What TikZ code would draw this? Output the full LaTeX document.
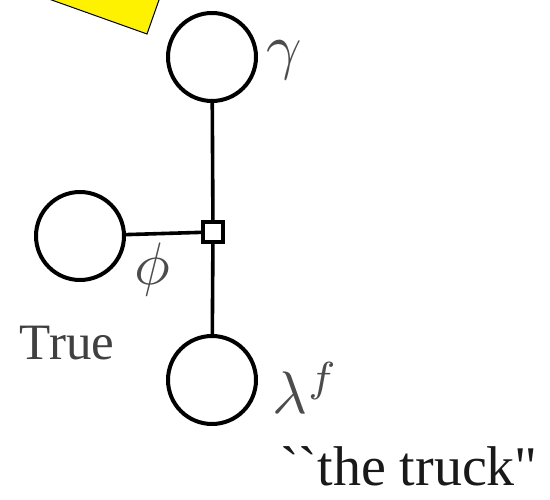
\documentclass[tikz,border=0pt]{standalone}
\usepackage{fontspec}
\usepackage{graphicx}
\setmainfont[Ligatures=TeXOff]{Liberation Serif}
\begin{document}
\begin{tikzpicture}[x=1pt,y=-1pt,
  var/.style={draw=black,circle,line width=4pt,minimum size=88pt,inner sep=0pt},
  fac/.style={draw=black,rectangle,line width=3.8pt,minimum size=20pt,inner sep=0pt,fill=white},
  edge/.style={line width=3.6pt},
  lbl/.style={inner sep=0pt,text=black!70},
  txt/.style={inner sep=0pt,text=black!75}]
\useasboundingbox (0,0) rectangle (550,500);
\begin{scope}
\clip (0,0) rectangle (550,500);
\fill[yellow,draw=black,line width=1pt] (4,-17) -- (147,34) -- (165,-17) -- cycle;
\end{scope}
\node[var] (g) at (212,57) {};
\node[var] (p) at (80,236) {};
\node[var] (l) at (212,380) {};
\node[fac] (f) at (213,232) {};
\draw[edge] (g) -- (f);
\draw[edge] (f) -- (l);
\draw[edge] (p) -- (f);
\node[lbl] (tg) at (284,60) {\scalebox{6.2}{$\gamma$}};
\node[lbl] (tp) at (152,270) {\scalebox{6}{$\phi$}};
\node[lbl] (tl) at (306,388) {\scalebox{6}{$\lambda^f$}};
\node[txt,font=\fontsize{51}{56}\selectfont] (tt) at (67,343) {True};
\node[txt,text=black!90,font=\fontsize{56}{60}\selectfont] (tq) at (409,466) {``the truck"};
\end{tikzpicture}
\end{document}
